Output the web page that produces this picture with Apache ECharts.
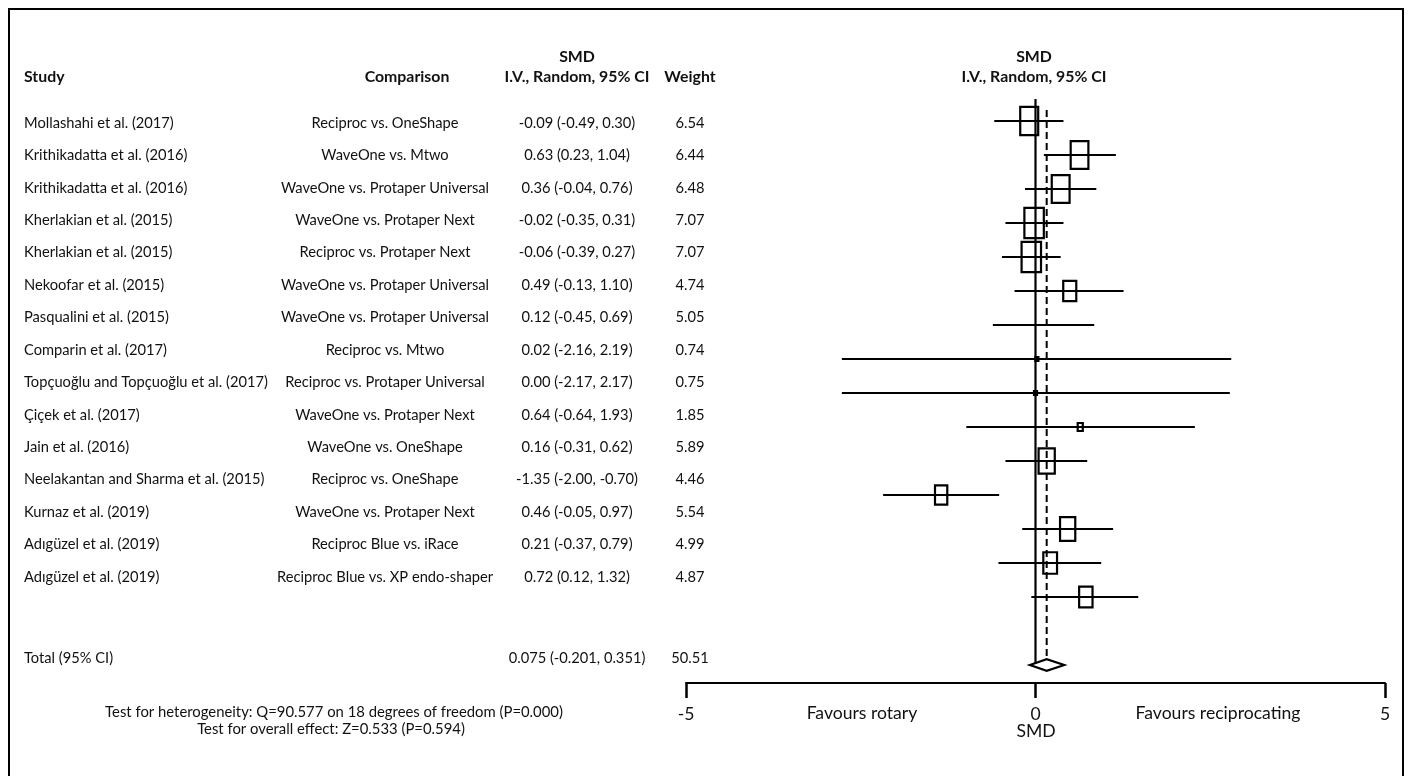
<!DOCTYPE html>
<html><head><meta charset="utf-8">
<script src="https://cdn.jsdelivr.net/npm/echarts@6/dist/echarts.min.js"></script>
<style>html,body{margin:0;padding:0;background:#fff}#chart{width:1412px;height:776px}</style>
</head><body><div id="chart"></div>
<script>
// ---------------- data ----------------
const studies = [
  'Mollashahi et al. (2017)',
  'Krithikadatta et al. (2016)',
  'Krithikadatta et al. (2016)',
  'Kherlakian et al. (2015)',
  'Kherlakian et al. (2015)',
  'Nekoofar et al. (2015)',
  'Pasqualini et al. (2015)',
  'Comparin et al. (2017)',
  'Topçuoğlu and Topçuoğlu et al. (2017)',
  'Çiçek et al. (2017)',
  'Jain et al. (2016)',
  'Neelakantan and Sharma et al. (2015)',
  'Kurnaz et al. (2019)',
  'Adıgüzel et al. (2019)',
  'Adıgüzel et al. (2019)'
];
const comparisons = [
  'Reciproc vs. OneShape',
  'WaveOne vs. Mtwo',
  'WaveOne vs. Protaper Universal',
  'WaveOne vs. Protaper Next',
  'Reciproc vs. Protaper Next',
  'WaveOne vs. Protaper Universal',
  'WaveOne vs. Protaper Universal',
  'Reciproc vs. Mtwo',
  'Reciproc vs. Protaper Universal',
  'WaveOne vs. Protaper Next',
  'WaveOne vs. OneShape',
  'Reciproc vs. OneShape',
  'WaveOne vs. Protaper Next',
  'Reciproc Blue vs. iRace',
  'Reciproc Blue vs. XP endo-shaper'
];
const smdLabels = [
  '-0.09 (-0.49, 0.30)',
  '0.63 (0.23, 1.04)',
  '0.36 (-0.04, 0.76)',
  '-0.02 (-0.35, 0.31)',
  '-0.06 (-0.39, 0.27)',
  '0.49 (-0.13, 1.10)',
  '0.12 (-0.45, 0.69)',
  '0.02 (-2.16, 2.19)',
  '0.00 (-2.17, 2.17)',
  '0.64 (-0.64, 1.93)',
  '0.16 (-0.31, 0.62)',
  '-1.35 (-2.00, -0.70)',
  '0.46 (-0.05, 0.97)',
  '0.21 (-0.37, 0.79)',
  '0.72 (0.12, 1.32)'
];
const weights = [6.54, 6.44, 6.48, 7.07, 7.07, 4.74, 5.05, 0.74, 0.75, 1.85, 5.89, 4.46, 5.54, 4.99, 4.87];
const estimates = [-0.09, 0.63, 0.36, -0.02, -0.06, 0.49, 0.12, 0.02, 0.00, 0.64, 0.16, -1.35, 0.46, 0.21, 0.72];
// whiskers as drawn in the picture
const drawnLower = [-0.59, 0.12, -0.15, -0.43, -0.48, -0.30, -0.61, -2.77, -2.77, -0.99, -0.43, -2.18, -0.19, -0.53, -0.06];
const drawnUpper = [0.40, 1.15, 0.87, 0.40, 0.36, 1.26, 0.84, 2.80, 2.78, 2.28, 0.74, -0.52, 1.11, 0.94, 1.47];
const boxDrawn = [true, true, true, true, true, true, false, true, true, true, true, true, true, true, true];
const totalLabel = 'Total (95% CI)';
const totalSmdLabel = '0.075 (-0.201, 0.351)';
const totalWeight = 50.51;
// pooled diamond as drawn: [lower, centre, upper]
const pooledDrawn = [-0.08, 0.16, 0.41];
const xTicks = [-5, 0, 5];
const tableHeaders = ['Study', 'Comparison', 'SMD', 'I.V., Random, 95% CI', 'Weight'];
const heterogeneityText = 'Test for heterogeneity: Q=90.577 on 18 degrees of freedom (P=0.000)';
const overallText = 'Test for overall effect: Z=0.533 (P=0.594)';
const favourLeft = 'Favours rotary';
const favourRight = 'Favours reciprocating';
const axisTitle = 'SMD';

// ---------------- layout / style ----------------
const INK = '#111';
const FONT = 'Lato';
function fitSize(text, target, weight) {
  const c = document.createElement('canvas').getContext('2d');
  c.font = (weight || 'normal') + ' 20px ' + FONT;
  return 20 * target / c.measureText(text).width;
}
const rowSize = fitSize('Topçuoğlu and Topçuoğlu et al. (2017)', 244);
const headSize = fitSize('I.V., Random, 95% CI', 145, 'bold');
const axisSize = fitSize('Favours reciprocating', 165);
const footSize = fitSize(heterogeneityText, 458);

// plot grid geometry
const ROW_PX = 34;
const PLOT_TOP = 99, PLOT_BOTTOM = 683;
const FIRST_ROW_Y = 121;
const yMinPlot = 1 - (FIRST_ROW_Y - PLOT_TOP) / ROW_PX;
const yMaxPlot = yMinPlot + (PLOT_BOTTOM - PLOT_TOP) / ROW_PX;
const diamondRow = studies.length + 2;
const diamondHalf = 0.17;
const dashTop = 1 - (FIRST_ROW_Y - 110) / ROW_PX;

// table grid geometry
const TROW_PX = 32.43, TFIRST_Y = 123;
const tMin = 1 - TFIRST_Y / TROW_PX;
const tMax = tMin + 776 / TROW_PX;
const totalRow = studies.length + 2.5;

const plotData = estimates.map((e, i) => [e, drawnLower[i], drawnUpper[i], i + 1, weights[i], boxDrawn[i] ? 1 : 0]);
const tableData = studies.map((s, i) => [0, i + 1]).concat([[0, totalRow]]);

const chart = echarts.init(document.getElementById('chart'), null, {renderer: 'canvas'});

function txt(x, y, text, size, align, weight) {
  return {type: 'text', x: x, y: y, style: {text: text, fontSize: size, fontFamily: FONT, fontWeight: weight || 'normal', fill: INK, align: align, verticalAlign: 'middle'}};
}

const option = {
  animation: false,
  backgroundColor: '#fff',
  grid: [
    {left: 686, top: PLOT_TOP, width: 699, height: PLOT_BOTTOM - PLOT_TOP, containLabel: false},
    {left: 0, top: 0, width: 680, height: 776, containLabel: false}
  ],
  xAxis: [
    {gridIndex: 0, type: 'value', min: xTicks[0], max: xTicks[xTicks.length - 1], interval: 5,
      splitLine: {show: false},
      axisLine: {show: true, onZero: false, lineStyle: {color: '#000', width: 2}},
      axisTick: {show: true, length: 15, lineStyle: {color: '#000', width: 2.5}},
      axisLabel: {show: true, margin: 22, color: INK, fontSize: axisSize, fontFamily: FONT}},
    {gridIndex: 1, type: 'value', min: 0, max: 680, show: false}
  ],
  yAxis: [
    {gridIndex: 0, type: 'value', inverse: true, min: yMinPlot, max: yMaxPlot, show: false},
    {gridIndex: 1, type: 'value', inverse: true, min: tMin, max: tMax, show: false}
  ],
  graphic: [
    {type: 'rect', shape: {x: 9, y: 9, width: 1394, height: 800}, style: {fill: 'none', stroke: '#000', lineWidth: 2}, silent: true},
    txt(24, 77, tableHeaders[0], headSize, 'left', 'bold'),
    txt(407, 77, tableHeaders[1], headSize, 'center', 'bold'),
    txt(577, 57, tableHeaders[2], headSize, 'center', 'bold'),
    txt(577, 77, tableHeaders[3], headSize, 'center', 'bold'),
    txt(690, 77, tableHeaders[4], headSize, 'center', 'bold'),
    txt(1034, 57, tableHeaders[2], headSize, 'center', 'bold'),
    txt(1034, 77, tableHeaders[3], headSize, 'center', 'bold'),
    txt(334, 712, heterogeneityText, footSize, 'center'),
    txt(331, 729, overallText, footSize, 'center'),
    txt(862, 713, favourLeft, axisSize, 'center'),
    txt(1218, 713, favourRight, axisSize, 'center'),
    txt(1036, 731, axisTitle, axisSize, 'center')
  ],
  series: [
    {
      type: 'line', xAxisIndex: 0, yAxisIndex: 0, silent: true, symbol: 'none',
      data: [[0, yMinPlot], [0, diamondRow]],
      lineStyle: {color: '#000', width: 2.2}, z: 2
    },
    {
      type: 'line', xAxisIndex: 0, yAxisIndex: 0, silent: true, symbol: 'none',
      data: [[pooledDrawn[1], dashTop], [pooledDrawn[1], diamondRow - diamondHalf]],
      lineStyle: {color: '#000', width: 2, type: [7, 4]}, z: 2
    },
    {
      type: 'custom', xAxisIndex: 0, yAxisIndex: 0, silent: true, z: 3,
      encode: {x: [0, 1, 2], y: 3},
      data: plotData,
      renderItem: function (params, api) {
        const e = api.value(0), lo = api.value(1), hi = api.value(2), r = api.value(3), w = api.value(4), vis = api.value(5);
        const pl = api.coord([lo, r]), ph = api.coord([hi, r]), pc = api.coord([e, r]);
        const children = [{type: 'line', shape: {x1: pl[0], y1: pl[1], x2: ph[0], y2: ph[1]}, style: {stroke: '#000', lineWidth: 2.2}}];
        if (vis) {
          const bw = Math.max(3, 2.75 * w), bh = Math.max(4, 4.3 * w);
          children.push({type: 'rect', shape: {x: pc[0] - bw / 2, y: pc[1] - bh / 2, width: bw, height: bh}, style: {fill: 'none', stroke: '#000', lineWidth: 2.2}});
        }
        return {type: 'group', children: children};
      }
    },
    {
      type: 'custom', xAxisIndex: 0, yAxisIndex: 0, silent: true, z: 4,
      encode: {x: [0, 1, 2], y: 3},
      data: [[pooledDrawn[0], pooledDrawn[1], pooledDrawn[2], diamondRow]],
      renderItem: function (params, api) {
        const lo = api.value(0), c = api.value(1), hi = api.value(2), r = api.value(3);
        const pts = [api.coord([lo, r]), api.coord([c, r - diamondHalf]), api.coord([hi, r]), api.coord([c, r + diamondHalf])];
        return {type: 'polygon', shape: {points: pts}, style: {fill: '#fff', stroke: '#000', lineWidth: 2.2}};
      }
    },
    {
      type: 'custom', xAxisIndex: 1, yAxisIndex: 1, silent: true, z: 5,
      encode: {x: 0, y: 1},
      data: tableData,
      renderItem: function (params, api) {
        const i = params.dataIndex, r = api.value(1);
        const isTotal = i >= studies.length;
        const y = api.coord([0, r])[1];
        const col = px => api.coord([px, r])[0];
        const items = isTotal
          ? [[24, totalLabel, 'left'], [577, totalSmdLabel, 'center'], [690, totalWeight.toFixed(2), 'center']]
          : [[24, studies[i], 'left'], [385, comparisons[i], 'center'], [577, smdLabels[i], 'center'], [690, weights[i].toFixed(2), 'center']];
        return {type: 'group', children: items.map(it => ({
          type: 'text', x: col(it[0]), y: y,
          style: {text: it[1], fontSize: rowSize, fontFamily: FONT, fill: INK, align: it[2], verticalAlign: 'middle'}
        }))};
      }
    }
  ]
};
chart.setOption(option);
</script></body></html>
